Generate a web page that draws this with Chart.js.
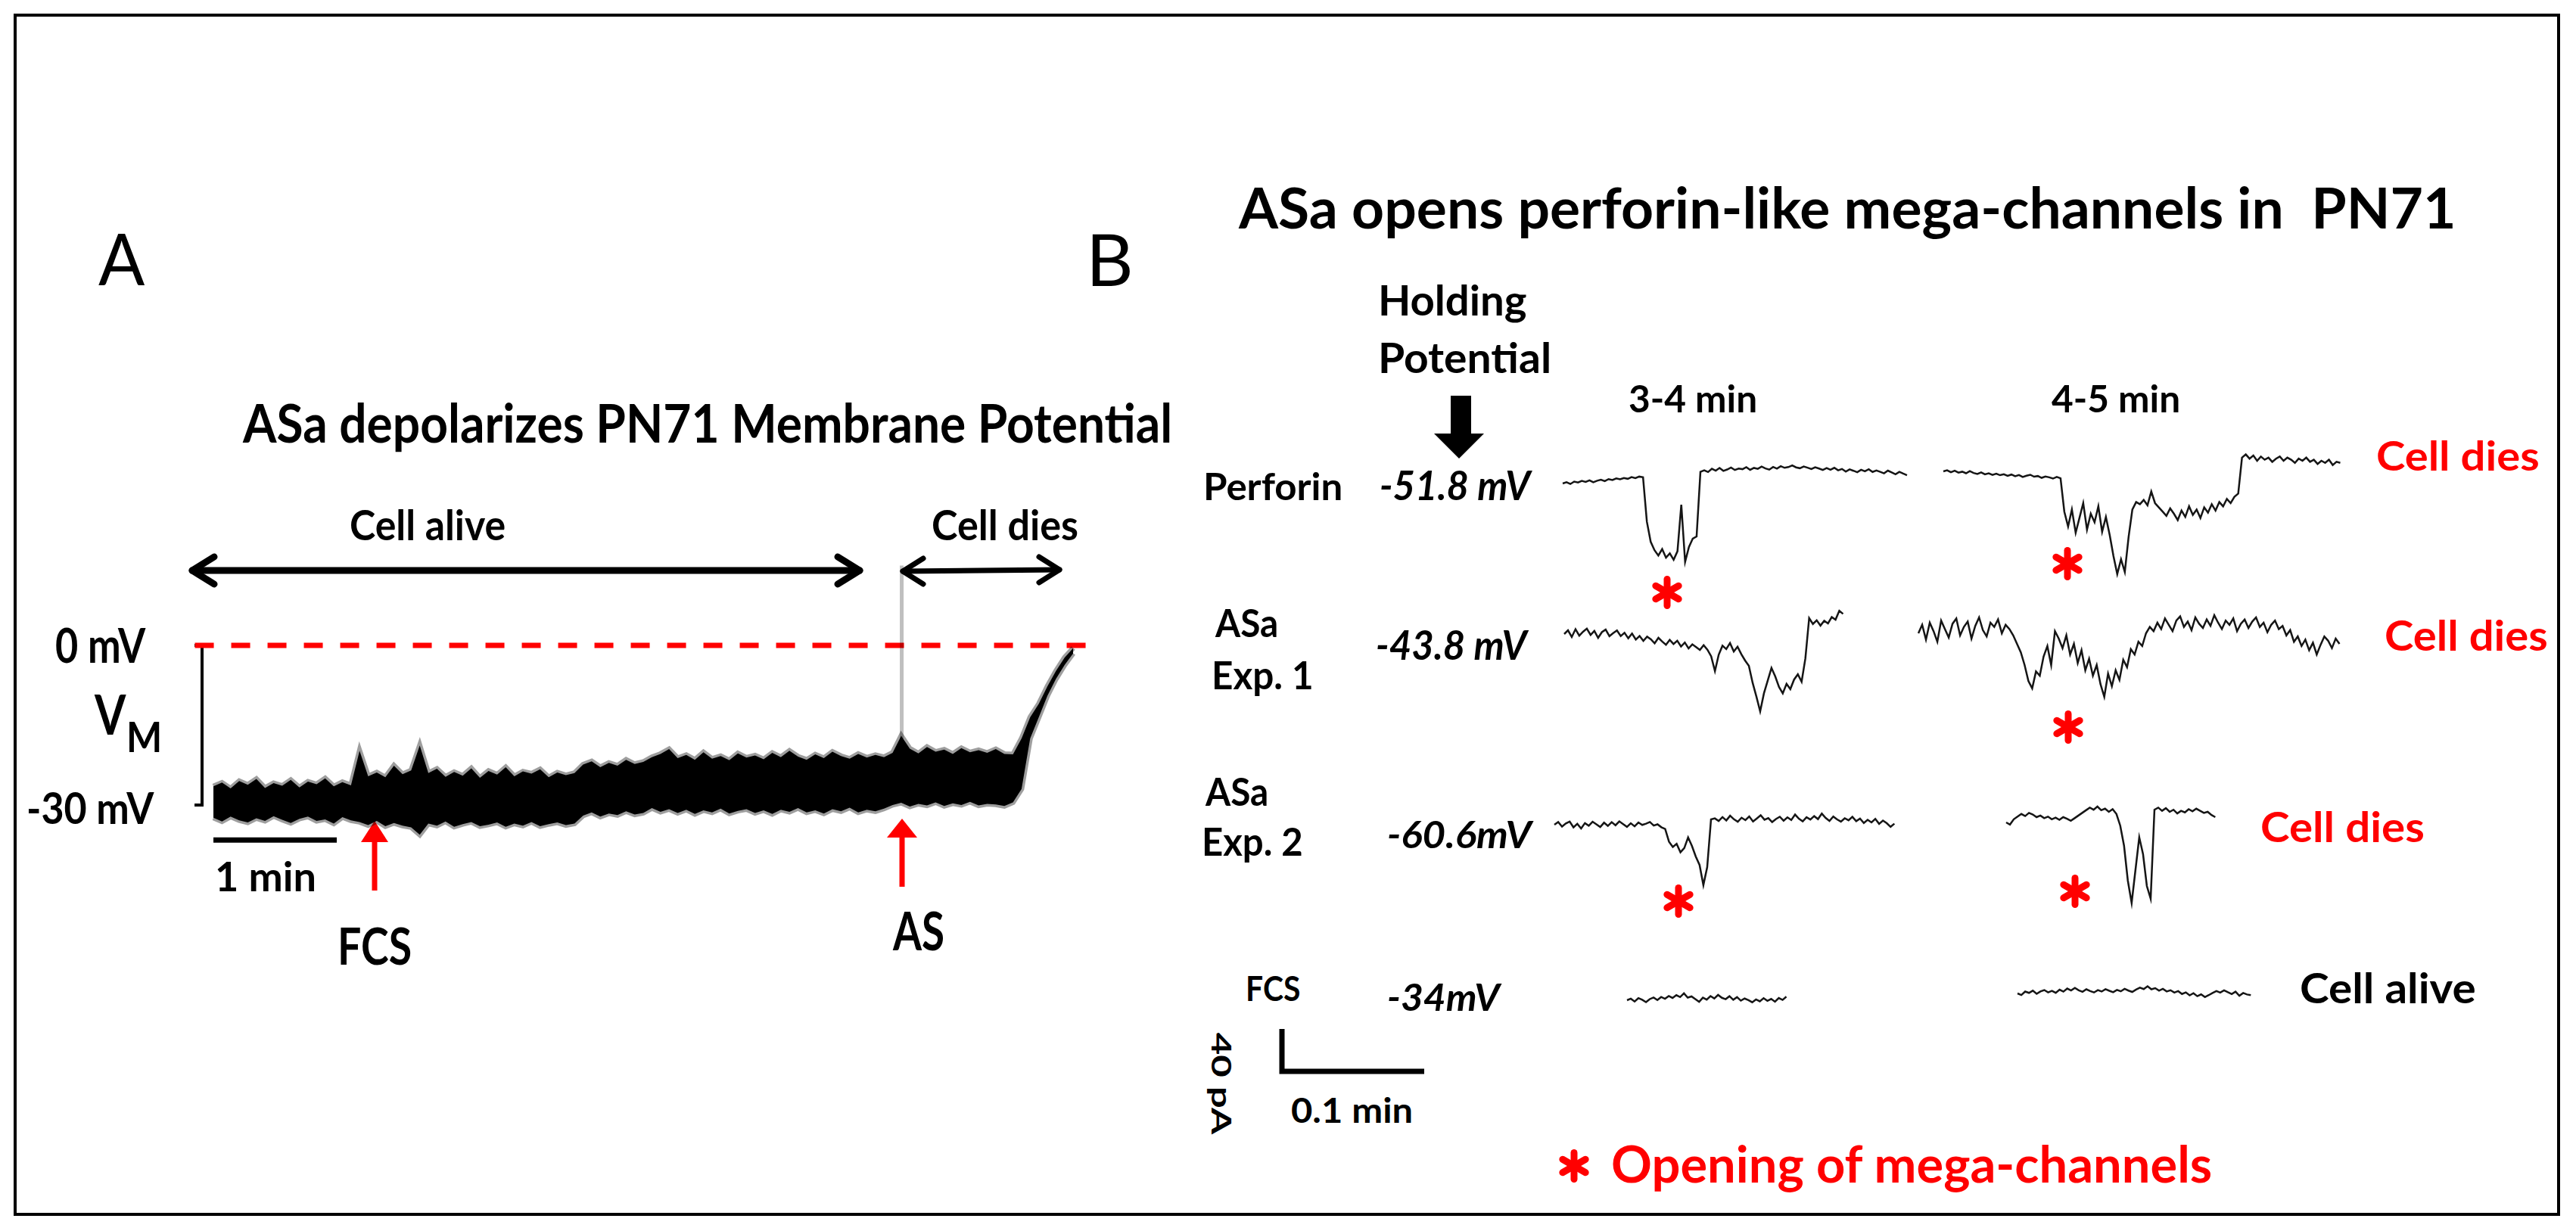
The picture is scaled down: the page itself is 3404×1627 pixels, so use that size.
<!DOCTYPE html>
<html>
<head>
<meta charset="utf-8">
<title>ASa depolarizes PN71 - mega-channels</title>
<script src="https://cdn.jsdelivr.net/npm/chart.js@4.4.1/dist/chart.umd.min.js"></script>
<style>
  html, body { margin: 0; padding: 0; background: #fff; }
  #fig { position: relative; width: 3404px; height: 1627px; overflow: hidden; background: #fff; }
  #fig canvas, #fig svg { position: absolute; }
  .lbl { position: absolute; white-space: pre; font-family: Lato, "Open Sans", sans-serif; transform-origin: 0 0; }
</style>
</head>
<body>
<div id="fig">
  <svg id="deco" width="3404" height="1627" style="left:0;top:0"></svg>
</div>
<script>
// ---- Panel A: membrane potential (mV), min/max envelope of the trace, 101 samples ----
const vmDuration = 6.97; // min
const vmUpper = [
  -26.5, -25.8, -26.9, -25.5, -26.2, -25.1, -26.8, -25.9, -26.4, -25.3, -26.7, -25.6, -26.1, -25.0, -26.5, -25.7, -26.3,
  -19.8, -24.6, -23.9, -24.8, -22.6, -24.2, -23.5, -18.8, -24.0, -23.2, -24.7, -23.8, -24.5, -23.1, -24.9, -23.6, -24.3,
  -22.9, -24.6, -23.7, -24.1, -23.3, -24.8, -23.9, -24.4, -24.0,
  -22.4, -21.8, -22.9, -22.1, -22.6, -21.5, -22.3, -21.9,
  -21.0, -20.4, -19.5, -21.2, -20.6, -21.5, -20.1, -21.3, -20.8, -21.6, -20.3, -21.1, -20.7, -21.4, -20.2, -21.0,
  -19.8, -20.9, -21.5, -20.5, -21.2, -20.0, -20.8, -21.3, -20.4, -21.1, -20.6, -21.0,
  -20.2, -17.0, -19.4, -20.3, -19.1, -20.0, -19.6, -20.4, -19.3, -20.1, -19.7, -20.2, -19.5, -20.4,
  -20.5, -17.5, -13.5, -11.0, -7.7, -4.8, -2.3, -0.5
];
const vmLower = [
  -32.4, -33.1, -32.2, -32.9, -33.3, -32.5, -33.0, -32.1, -32.8, -33.4, -32.6, -32.2, -33.0, -32.7, -33.5, -32.3, -32.9,
  -33.2, -33.8, -33.0, -34.0, -33.4, -33.9, -34.2, -35.6, -33.5, -33.9, -33.1, -34.1, -33.6, -33.2, -34.0, -33.7, -33.3,
  -34.1, -33.5, -33.9, -33.2, -34.0, -33.6, -33.3, -33.8, -33.5,
  -32.0, -31.4, -32.2, -31.6, -31.9, -31.2, -31.8, -31.5,
  -30.6, -31.3, -30.8, -31.5, -30.9, -31.7, -31.0, -31.4, -30.7, -31.6, -31.1, -30.8, -31.5, -31.0, -31.7, -30.9,
  -31.3, -30.6, -31.4, -31.0, -31.6, -30.8, -31.2, -30.5, -31.4, -30.9, -31.2, -30.7,
  -30.0, -29.6, -30.3, -29.8, -30.1, -29.5, -30.2, -29.7, -30.0, -29.4, -30.1, -29.8, -29.9, -30.2,
  -29.5, -27.0, -17.5, -13.5, -9.5, -6.3, -3.7, -1.5
];
const asSpikeTime = 5.58;      // min
const asSpike = [-20, 15];     // mV
const zeroLineSpan = [-0.15, 7.15];
const vmScaleBar = [0, -30];   // mV
const timeScaleBar = [0, 1];   // min

// ---- Panel B: holding currents (pA, relative to start), evenly sampled ----
const perf34Dur = 0.242;
const perf34 = [
  0, 1.2, -0.5, 1.8, 0.9, 2.4, 1.5, 3.0, 1.1, 2.6, 3.5, 2.2, 4.1, 3.3, 4.8, 3.9, 5.2, 4.4, 6.0, 5.1, 6.5, 5.8,
  -36, -55, -63, -68, -62, -70, -66, -72, -64, -20, -74, -60, -52, -50,
  11,
  12.5, 10.8, 13.9, 12.1, 14.6, 11.9, 13.2, 15.0, 12.7, 14.1, 13.5, 15.4, 12.9, 14.7, 13.8, 15.9, 14.2, 13.1,
  15.6, 14.0, 16.3, 14.8, 15.5, 17.1, 15.2, 14.4, 16.0, 14.9, 13.6, 15.3, 14.1, 12.8, 14.5, 13.0, 14.8, 12.4,
  13.7, 11.2, 13.3, 12.0, 10.6, 12.9, 11.5, 13.4, 10.9, 12.2, 11.0, 9.6, 12.1, 10.4, 8.7, 11.0, 9.3, 7.8
];
const perf45Dur = 0.279;
const perf45 = [
  0, 1.0, -0.8, 0.6, -1.2, -0.3, -1.8, 0.2, -1.5, -2.4, -1.0, -2.8, -1.9, -3.3, -2.2, -3.6, -2.7, -4.2, -3.0, -4.6,
  -3.5, -5.3, -4.1, -3.2, -5.0, -4.4, -6.1, -4.9, -5.6, -6.8, -5.2, -6.5,
  -38,
  -52, -36, -58, -44, -30, -55, -40, -48, -33, -57, -43, -60,
  -80, -97, -83, -95, -62, -36,
  -29, -31, -27, -32, -19, -30, -34, -38, -42, -35, -40, -46, -37, -43, -33, -41, -36, -44, -34, -39,
  -31, -37, -29, -33, -26, -30, -24, -21,
  13,
  16, 12, 15, 10, 14, 11, 13, 9, 12, 14, 10, 13, 11, 8, 12, 10, 13, 9, 11, 7, 10, 8, 11, 6, 9, 8
];
const exp1a34Dur = 0.196;
const exp1a34 = [
  0, 3.5, -2.8, 4.6, -1.5, 2.2, 5.1, -0.8, 3.0, -3.6, 1.8, 4.2, -2.0, 0.9, 3.4, -1.9, 1.2,
  -4.0, 0.5, -5.2, -1.8, -6.5, -2.4, -4.9, -8.8, -3.6, -7.1, -10.2, -5.5, -9.4, -6.3, -11.8, -8.0, -13.6, -9.7, -12.4, -15.0,
  -10.5, -14.8, -21.0, -35.0, -19.5, -11.0, -14.2, -8.5, -16.5, -12.0, -19.0, -25.0,
  -30.0, -46.0, -59.0, -73.0, -56.0, -44.0, -32.0, -40.0, -50.0, -56.0, -47.0, -52.0, -43.0, -38.0, -45.0, -23.0,
  15.0, 9.5, 13.0, 8.0, 12.5, 10.0, 16.0, 13.5, 22.0, 19.0
];
const exp1a45Dur = 0.296;
const exp1a45 = [
  0, 8, -6, 10, 2, -8, 12, 4, -4, 9, 14, -2, 6, 11, -5, 7, 15, 3, -3, 10, 6, 13, 0, 8, 4, -2,
  -10, -18, -30, -45, -52, -36, -40, -22, -12, -30, 2, -5,
  -14, -2, -20, -10, -28, -16, -35, -24, -40, -30, -48, -60, -38, -50, -35, -44, -25, -32, -15, -20, -8, -12, 0, 6, 2,
  10, 4, 14, 8, 2, 12, 16, 6, 11, 3, 15, 9, 5, 13, 7, 17, 10, 4, 12, 8, 14, 2, 9, 13, 5, 11, 15, 6, 10, 1,
  8, 12, 4, 7, -2, 3, -8, -3, -12, -6, -16, -9, -20, -11, -3, -7, -14, -5, -10
];
const exp2a34Dur = 0.239;
const exp2a34 = [
  0, 2.5, -1.8, 1.2, 3.0, -2.5, 0.8, -3.6, 1.5, -0.9, 2.8, 0.3, -2.2, 1.9, -1.1, 2.4, -0.5, 3.2, 0.6, -2.0,
  1.4, -1.5, 2.1, -0.2, 1.0, 2.6, -0.8, 0.4, -2.4,
  -4,
  -16, -21, -18, -26, -22, -12, -20, -30, -38, -57, -40,
  5,
  6, 3.5, 7.2, 4.0, 8.5, 5.1, 2.8, 6.6, 4.3, 7.8, 3.0, 5.9, 8.9, 4.7, 6.2, 2.5, 5.4, 7.5, 3.8, 6.9,
  4.4, 9.6, 5.6, 3.2, 7.0, 4.9, 8.1, 5.3, 10.5, 6.4, 3.6, 7.7, 5.0, 2.9, 6.1, 4.2, 7.4, 3.3, 5.8, 1.6,
  4.6, 2.2, 5.5, 0.8, 3.9, 1.4, -2.0, 1.0
];
const exp2a45Dur = 0.147;
const exp2a45 = [
  0, -2, 3, 5.5, 8, 6, 9, 7.5, 5, 6.5, 4, 5.5, 3, 4.5, 2.5, 5, 3.5, 1.5, 4, 6.5, 9, 11.5, 14, 12, 15, 11.5, 13, 10, 12.5,
  8, -3, -22, -55, -76, -45, -14, -30, -60, -72, 12,
  14, 11, 13.5, 10, 12, 8.5, 11, 9.5, 12.5, 10.5, 13, 11, 9, 10, 7, 5
];
const fcs34Dur = 0.112;
const fcs34 = [
  0, 1.5, -1.2, 2.0, 0.4, -1.8, 1.1, 2.6, 0.2, 3.1, 1.4, 4.0, 2.2, 4.8, 3.0, 6.5, 2.5, 3.6, 1.0, -1.5,
  2.4, 0.6, 3.9, 1.7, 5.0, 2.3, 1.0, 3.8, 0.5, 2.9, -0.4, 1.6, 0.1, -1.9, 0.8, -1.0, 1.9, -0.6, 1.2, -1.4, 2.1, 0.3, 3.4
];
const fcs45Dur = 0.164;
const fcs45 = [
  0, -1.5, 1.8, 0.5, 2.6, -0.4, 1.9, 3.2, 1.0, 2.4, 0.6, 3.5, 1.7, 4.6, 2.8, 5.2, 3.0, 1.5, 3.9, 2.2,
  0.9, 3.1, 1.8, 4.0, 2.5, 1.2, 3.3, 2.0, 4.4, 2.7, 1.4, 3.6, 5.5, 4.1, 6.8, 3.9, 5.0, 2.6, 4.3, 1.9,
  3.0, 0.8, 2.2, -0.5, 1.0, -1.8, 0.2, -2.6, -0.9, -3.4, -1.6, 0.5, 2.3, 0.8, 2.9, 1.1, -0.6, 1.7, -2.2, 0.4, -1.0, -1.6
];
const scaleBarPA = 40;    // pA
const scaleBarMin = 0.1;  // min

// ---------------------------------------------------------------------------
const fig = document.getElementById('fig');

// one hidden-axis chart placed on the page; map = pixel of data origin + px per unit
function plot(box, map, datasets) {
  const c = document.createElement('canvas');
  c.width = box.w; c.height = box.h;
  c.style.left = box.x + 'px'; c.style.top = box.y + 'px';
  c.style.width = box.w + 'px'; c.style.height = box.h + 'px';
  fig.appendChild(c);
  return new Chart(c, {
    type: 'line',
    data: { datasets },
    options: {
      responsive: false,
      animation: false,
      events: [],
      layout: { padding: 0 },
      plugins: { legend: { display: false }, tooltip: { enabled: false }, title: { display: false } },
      elements: { point: { radius: 0 }, line: { tension: 0 } },
      scales: {
        x: { type: 'linear', display: false, min: (box.x - map.x0) / map.sx, max: (box.x + box.w - map.x0) / map.sx },
        y: { type: 'linear', display: false, min: (map.y0 - box.y - box.h) / map.sy, max: (map.y0 - box.y) / map.sy }
      }
    }
  });
}

function line(points, color, width, extra) {
  return Object.assign({ data: points, borderColor: color, borderWidth: width, fill: false }, extra || {});
}

const sampled = (vals, dur) => vals.map((v, i) => ({ x: i * dur / (vals.length - 1), y: v }));

// Panel A
plot({ x: 230, y: 700, w: 1250, h: 450 }, { x0: 282, y0: 853, sx: 163, sy: 7.03 }, [
  line(sampled(vmUpper, vmDuration), 'rgba(0,0,0,0.38)', 7, { fill: '+1', backgroundColor: '#000' }),
  line(sampled(vmLower, vmDuration), 'rgba(0,0,0,0.38)', 7),
  line(asSpike.map(v => ({ x: asSpikeTime, y: v })), 'rgba(0,0,0,0.25)', 5),
  line(zeroLineSpan.map(t => ({ x: t, y: 0 })), '#ff0000', 7, { borderDash: [25, 23] }),
  line([{ x: -0.153, y: vmScaleBar[0] }, { x: -0.092, y: vmScaleBar[0] },
        { x: -0.092, y: vmScaleBar[1] }, { x: -0.153, y: vmScaleBar[1] }], '#000', 4),
  line(timeScaleBar.map(t => ({ x: t, y: -36.6 })), '#000', 7)
]);

// Panel B traces
const SX = 1880, SY = 1.4;   // px per min, px per pA
const traces = [
  { v: perf34, d: perf34Dur, x0: 2065, y0: 639 },
  { v: perf45, d: perf45Dur, x0: 2568, y0: 623 },
  { v: exp1a34, d: exp1a34Dur, x0: 2067, y0: 838 },
  { v: exp1a45, d: exp1a45Dur, x0: 2535, y0: 837 },
  { v: exp2a34, d: exp2a34Dur, x0: 2054, y0: 1090 },
  { v: exp2a45, d: exp2a45Dur, x0: 2651, y0: 1087 },
  { v: fcs34, d: fcs34Dur, x0: 2150, y0: 1322 },
  { v: fcs45, d: fcs45Dur, x0: 2666, y0: 1313 }
];
traces.forEach(tr => {
  const hi = Math.max(...tr.v) + 8, lo = Math.min(...tr.v) - 8;
  const box = {
    x: Math.floor(tr.x0 - 10), y: Math.floor(tr.y0 - hi * SY),
    w: Math.ceil(tr.d * SX + 20), h: Math.ceil((hi - lo) * SY)
  };
  plot(box, { x0: tr.x0, y0: tr.y0, sx: SX, sy: SY }, [line(sampled(tr.v, tr.d), '#151515', 2.5)]);
});

// scale bar 40 pA / 0.1 min
plot({ x: 1680, y: 1340, w: 220, h: 95 }, { x0: 1694, y0: 1416, sx: SX, sy: SY }, [
  line([{ x: 0, y: scaleBarPA }, { x: 0, y: 0 }, { x: scaleBarMin, y: 0 }], '#000', 7,
       { borderJoinStyle: 'miter', borderCapStyle: 'butt' })
]);

// ---- decorations: frame, arrows, asterisks ----
function asterisk(cx, cy) {
  let s = '';
  [90, 30, 150].forEach(a => {
    const r = 17.5, dx = r * Math.cos(a * Math.PI / 180), dy = r * Math.sin(a * Math.PI / 180);
    s += `<line x1="${cx - dx}" y1="${cy - dy}" x2="${cx + dx}" y2="${cy + dy}"/>`;
  });
  return s;
}
const stars = [[2203, 783], [2732, 745], [2733, 961], [2218, 1191], [2742, 1178], [2080, 1541]];
document.getElementById('deco').innerHTML = `
  <rect x="20" y="20" width="3361" height="1585" fill="none" stroke="#000" stroke-width="4"/>
  <g stroke="#000" fill="none" stroke-linecap="round" stroke-linejoin="round">
    <line x1="254" y1="754" x2="1136" y2="754" stroke-width="9"/>
    <polyline points="283,736 254,754 283,772" stroke-width="9"/>
    <polyline points="1107,736 1136,754 1107,772" stroke-width="9"/>
    <line x1="1193" y1="755" x2="1400" y2="753" stroke-width="7"/>
    <polyline points="1220,738 1193,755 1220,772" stroke-width="7"/>
    <polyline points="1373,736 1400,753 1373,770" stroke-width="7"/>
  </g>
  <g fill="#ff0000">
    <rect x="491.5" y="1105" width="7" height="72"/>
    <polygon points="477,1113 513,1113 495,1085"/>
    <rect x="1188.5" y="1100" width="7" height="72"/>
    <polygon points="1172,1107 1212,1107 1192,1082"/>
  </g>
  <g fill="#000">
    <rect x="1917" y="523" width="27" height="51"/>
    <polygon points="1895,573 1961,573 1928,606"/>
  </g>
  <g stroke="#ff0000" stroke-width="9" stroke-linecap="round">${stars.map(p => asterisk(p[0], p[1])).join('')}</g>
`;

// ---- text: centre x, cap-centre y, ink width, font size ----
const RED = '#ff0000';
const labels = [
  { t: 'A', x: 161, y: 342, w: 62, s: 95, wt: 400 },
  { t: 'B', x: 1468, y: 343, w: 50, s: 95, wt: 400 },
  { t: 'ASa depolarizes PN71 Membrane Potential', x: 933, y: 559, w: 1226, s: 70 },
  { t: 'Cell alive', x: 565, y: 694, w: 203, s: 55 },
  { t: 'Cell dies', x: 1328, y: 694, w: 191, s: 55 },
  { t: '0 mV', x: 133, y: 853, w: 119, s: 64 },
  { t: 'V', x: 146, y: 944, w: 43, s: 72 },
  { t: 'M', x: 191, y: 974, w: 40, s: 55 },
  { t: '-30 mV', x: 121, y: 1068, w: 166, s: 57 },
  { t: '1 min', x: 351, y: 1158, w: 128, s: 53 },
  { t: 'FCS', x: 496, y: 1250, w: 92, s: 66 },
  { t: 'AS', x: 1213, y: 1230, w: 67, s: 70 },

  { t: 'ASa opens perforin-like mega-channels in  PN71', x: 2438, y: 275, w: 1605, s: 75 },
  { t: 'Holding', x: 1921, y: 397, w: 192, s: 56 },
  { t: 'Potential', x: 1936, y: 473, w: 222, s: 56 },
  { t: '3-4 min', x: 2236, y: 527, w: 167, s: 50 },
  { t: '4-5 min', x: 2795, y: 527, w: 168, s: 50 },
  { t: 'Perforin', x: 1683, y: 643, w: 178, s: 50 },
  { t: 'ASa', x: 1646, y: 823, w: 82, s: 52 },
  { t: 'Exp. 1', x: 1669, y: 892, w: 128, s: 52 },
  { t: 'ASa', x: 1633, y: 1046, w: 82, s: 52 },
  { t: 'Exp. 2', x: 1656, y: 1112, w: 128, s: 52 },
  { t: 'FCS', x: 1683, y: 1306, w: 69, s: 45 },
  { t: '-51.8 mV', x: 1925, y: 641, w: 200, s: 54, it: true },
  { t: '-43.8 mV', x: 1920, y: 852, w: 201, s: 53, it: true },
  { t: '-60.6mV', x: 1931, y: 1103, w: 192, s: 49, it: true },
  { t: '-34mV', x: 1910, y: 1318, w: 150, s: 49, it: true },
  { t: 'Cell dies', x: 3248, y: 602, w: 212, s: 53, c: RED },
  { t: 'Cell dies', x: 3259, y: 840, w: 212, s: 56, c: RED },
  { t: 'Cell dies', x: 3096, y: 1093, w: 213, s: 56, c: RED },
  { t: 'Cell alive', x: 3156, y: 1306, w: 229, s: 55 },
  { t: '0.1 min', x: 1786, y: 1467, w: 158, s: 46 },
  { t: 'Opening of mega-channels', x: 2527, y: 1538, w: 792, s: 67, c: RED },
  { t: '40 pA', x: 1615, y: 1432, w: 135, s: 37, rot: true }
];

function placeLabels() {
  fig.querySelectorAll('.lbl').forEach(el => el.remove());
  const ctx = document.createElement('canvas').getContext('2d');
  labels.forEach(L => {
    const font = `${L.it ? 'italic ' : ''}${L.wt || 700} ${L.s}px Lato, "Open Sans", sans-serif`;
    ctx.font = font;
    const m = ctx.measureText(L.t);
    const cap = ctx.measureText('H').actualBoundingBoxAscent;
    const asc = m.fontBoundingBoxAscent, desc = m.fontBoundingBoxDescent;
    const inkW = m.actualBoundingBoxLeft + m.actualBoundingBoxRight;
    const k = L.w / inkW;
    const el = document.createElement('div');
    el.className = 'lbl';
    el.textContent = L.t;
    el.style.font = font;
    el.style.lineHeight = (asc + desc) + 'px';
    el.style.color = L.c || '#000';
    if (L.rot) {
      el.style.left = L.x + 'px';
      el.style.top = L.y + 'px';
      el.style.transformOrigin = '50% 50%';
      el.style.transform = `translate(-50%, -50%) rotate(90deg) scaleX(${k})`;
    } else {
      el.style.left = (L.x - k * (m.actualBoundingBoxRight - m.actualBoundingBoxLeft) / 2) + 'px';
      el.style.top = (L.y + cap / 2 - asc) + 'px';
      el.style.transform = `scaleX(${k})`;
    }
    fig.appendChild(el);
  });
}
placeLabels();
if (document.fonts && document.fonts.ready) document.fonts.ready.then(placeLabels);
</script>
</body>
</html>
